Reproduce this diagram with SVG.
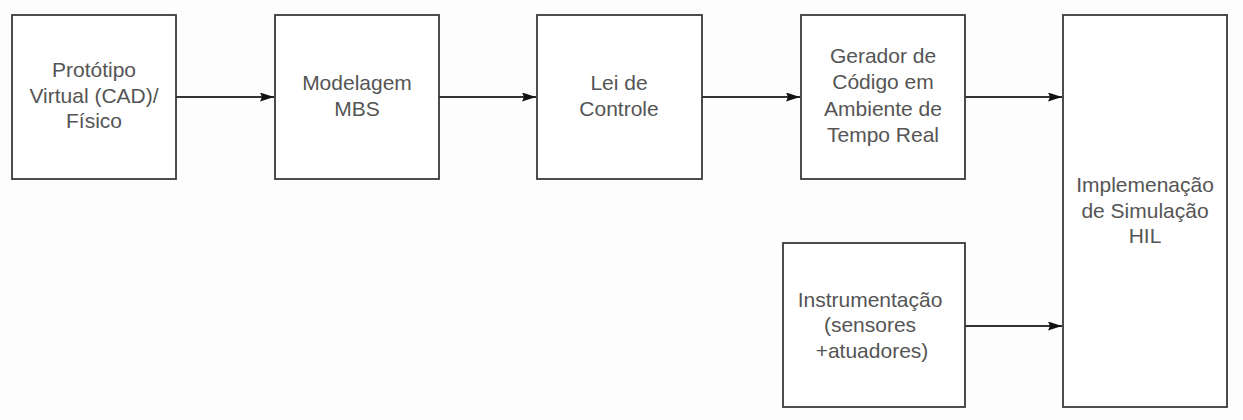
<svg xmlns="http://www.w3.org/2000/svg" width="1243" height="420" viewBox="0 0 1243 420">
<style>
.box{fill:#fff;stroke:#3a3a3a;stroke-width:1.8}
.lbl{font-family:"Liberation Sans",Arial,sans-serif;font-size:21px;fill:#555;text-anchor:middle}
.con{stroke:#333;stroke-width:1.8;fill:none;marker-end:url(#ah)}
</style>
<defs>
<marker id="ah" markerWidth="14" markerHeight="9" refX="14" refY="4.5" orient="auto" markerUnits="userSpaceOnUse">
<path d="M0,0 L14,4.5 L0,9 L2,4.5 Z" fill="#111"/>
</marker>
</defs>
<rect width="1243" height="420" fill="#fdfdfd"/>
<g id="n1"><rect class="box" x="12" y="15" width="164" height="164"/>
<text class="lbl" x="94" y="77">Protótipo</text><text class="lbl" x="94" y="103">Virtual (CAD)/</text><text class="lbl" x="94" y="128">Físico</text></g>
<g id="n2"><rect class="box" x="275" y="15" width="164" height="164"/>
<text class="lbl" x="357" y="90">Modelagem</text><text class="lbl" x="357" y="116">MBS</text></g>
<g id="n3"><rect class="box" x="537" y="15" width="165" height="164"/>
<text class="lbl" x="619" y="90">Lei de</text><text class="lbl" x="619" y="116">Controle</text></g>
<g id="n4"><rect class="box" x="801" y="15" width="164" height="164"/>
<text class="lbl" x="883" y="63">Gerador de</text><text class="lbl" x="883" y="89">Código em</text><text class="lbl" x="883" y="116">Ambiente de</text><text class="lbl" x="883" y="142">Tempo Real</text></g>
<g id="n5"><rect class="box" x="1063" y="15" width="164" height="392"/>
<text class="lbl" x="1145" y="192">Implemenação</text><text class="lbl" x="1145" y="218">de Simulação</text><text class="lbl" x="1145" y="243">HIL</text></g>
<g id="n6"><rect class="box" x="783" y="243" width="182" height="164"/>
<text class="lbl" x="870" y="307">Instrumentação</text><text class="lbl" x="870" y="332">(sensores</text><text class="lbl" x="872" y="358">+atuadores)</text></g>
<g id="connectors">
<line class="con" x1="176" y1="97" x2="274" y2="97"/>
<line class="con" x1="439" y1="97" x2="536" y2="97"/>
<line class="con" x1="702" y1="97" x2="800" y2="97"/>
<line class="con" x1="965" y1="97" x2="1062" y2="97"/>
<line class="con" x1="965" y1="326" x2="1062" y2="326"/>
</g>
</svg>
